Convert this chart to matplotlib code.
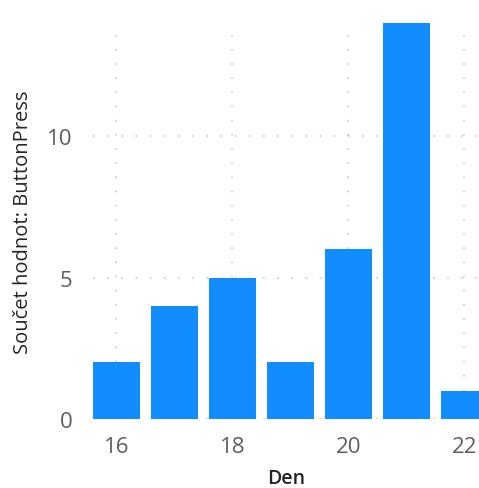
import matplotlib
matplotlib.use("Agg")
import matplotlib.pyplot as plt

# data
days = [16, 17, 18, 19, 20, 21, 22]
presses = [2, 4, 5, 2, 6, 14, 1]
x_ticks = [16, 18, 20, 22]
y_ticks = [0, 5, 10]

plt.rcParams['font.family'] = ['Open Sans', 'DejaVu Sans']

fig = plt.figure(figsize=(4.79, 4.89), dpi=100)
ax = fig.add_axes([93 / 479, 69 / 489, 386 / 479, 396 / 489])

ax.bar(days, presses, width=0.81, color='#118DFF', zorder=2)

ax.set_xlim(15.6, 15.6 + 386 / 58)
ax.set_ylim(0, 14)
ax.set_xticks(x_ticks)
ax.set_yticks(y_ticks)

# dotted grid like Power BI
ax.grid(True, color='#C8C6C4', linestyle=(0, (1, 7.5)), linewidth=1.2, zorder=0)
ax.set_axisbelow(True)
for s in ax.spines.values():
    s.set_visible(False)

ax.tick_params(length=0, labelsize=16, labelcolor='#605E5C')
ax.tick_params(axis='y', pad=15)
ax.tick_params(axis='x', pad=12)

ax.set_xlabel("Den", fontsize=14, color='#252423', fontweight='semibold', labelpad=8)
ax.set_ylabel("Součet hodnot: ButtonPress", fontsize=14.5, color='#252423', labelpad=10)

fig.savefig("out.png", dpi=100)
